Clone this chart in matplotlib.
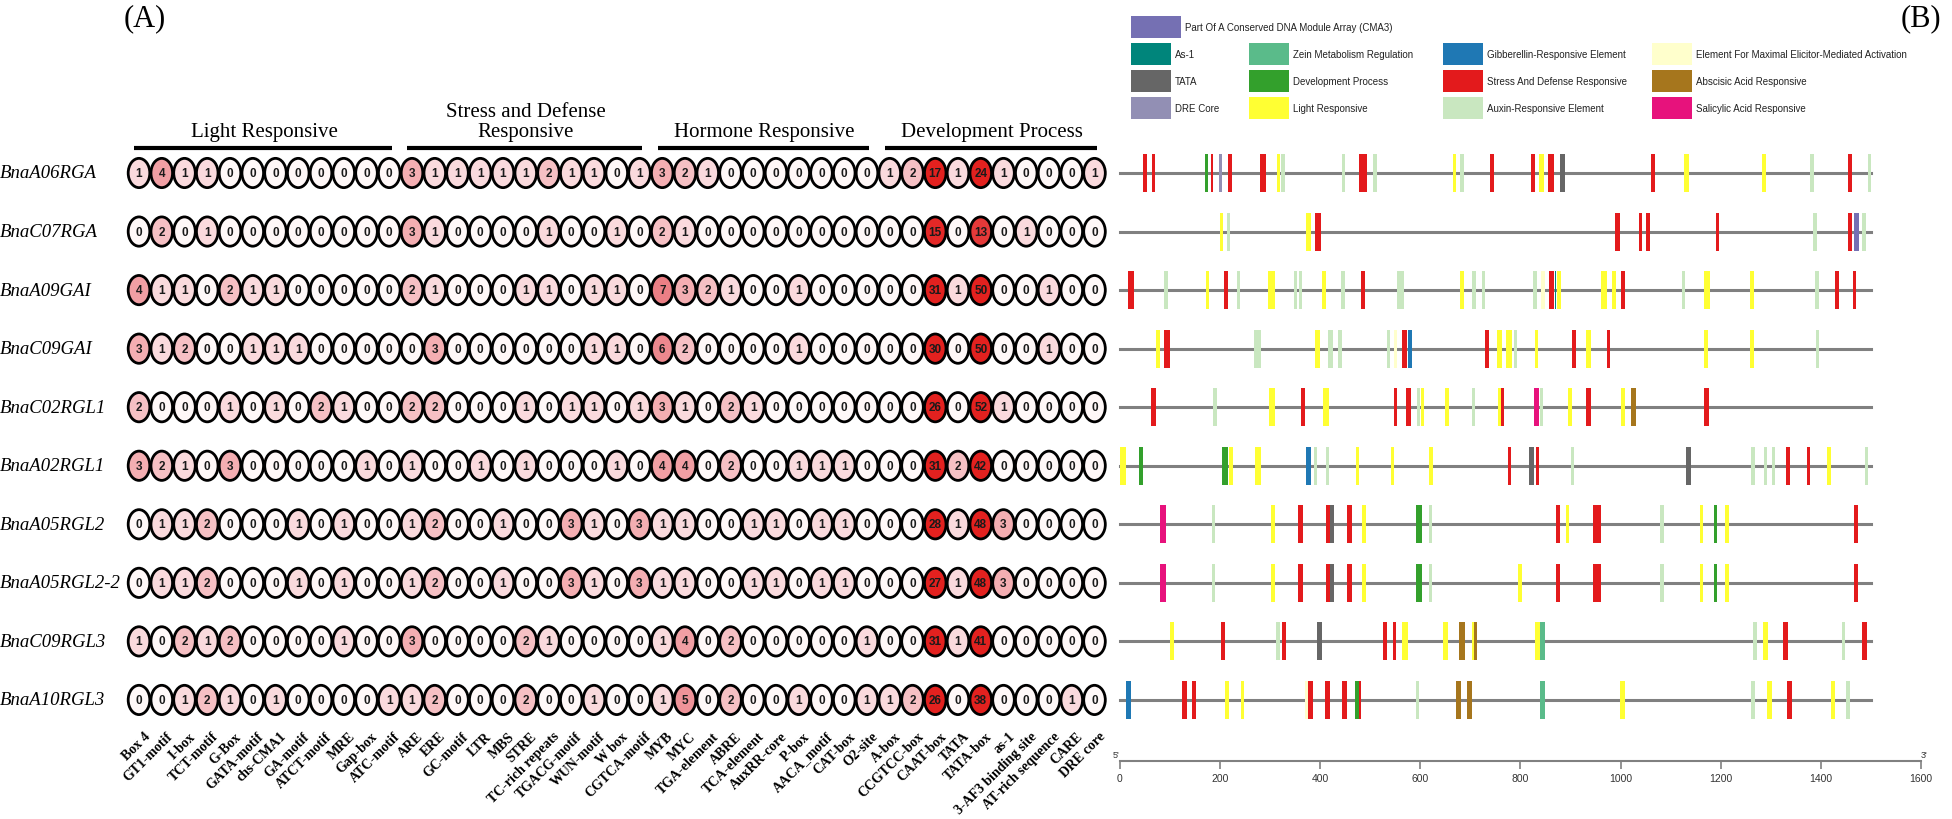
import numpy as np
import matplotlib.pyplot as plt
from matplotlib.patches import Ellipse, Rectangle
from matplotlib.colors import LinearSegmentedColormap

# ----------------------------------------------------------------------
# Data: cis-element counts (panel A)
# ----------------------------------------------------------------------
genes = ['BnaA06RGA', 'BnaC07RGA', 'BnaA09GAI', 'BnaC09GAI', 'BnaC02RGL1',
         'BnaA02RGL1', 'BnaA05RGL2', 'BnaA05RGL2-2', 'BnaC09RGL3', 'BnaA10RGL3']

light_elements = ['Box 4', 'GT1-motif', 'I-box', 'TCT-motif', 'G-Box', 'GATA-motif',
                  'chs-CMA1', 'GA-motif', 'ATCT-motif', 'MRE', 'Gap-box', 'ATC-motif']
stress_elements = ['ARE', 'ERE', 'GC-motif', 'LTR', 'MBS', 'STRE', 'TC-rich repeats',
                   'TGACG-motif', 'WUN-motif', 'W box', 'CGTCA-motif']
hormone_elements = ['MYB', 'MYC', 'TGA-element', 'ABRE', 'TCA-element', 'AuxRR-core',
                    'P-box', 'AACA_motif', 'CAT-box', 'O2-site']
develop_elements = ['A-box', 'CCGTCC-box', 'CAAT-box', 'TATA', 'TATA-box', 'as-1',
                    '3-AF3 binding site', 'AT-rich sequence', 'CARE', 'DRE core']
group_names = ['Light Responsive', 'Stress and Defense\nResponsive',
               'Hormone Responsive', 'Development Process']

light_counts = [
    [1, 4, 1, 1, 0, 0, 0, 0, 0, 0, 0, 0],
    [0, 2, 0, 1, 0, 0, 0, 0, 0, 0, 0, 0],
    [4, 1, 1, 0, 2, 1, 1, 0, 0, 0, 0, 0],
    [3, 1, 2, 0, 0, 1, 1, 1, 0, 0, 0, 0],
    [2, 0, 0, 0, 1, 0, 1, 0, 2, 1, 0, 0],
    [3, 2, 1, 0, 3, 0, 0, 0, 0, 0, 1, 0],
    [0, 1, 1, 2, 0, 0, 0, 1, 0, 1, 0, 0],
    [0, 1, 1, 2, 0, 0, 0, 1, 0, 1, 0, 0],
    [1, 0, 2, 1, 2, 0, 0, 0, 0, 1, 0, 0],
    [0, 0, 1, 2, 1, 0, 1, 0, 0, 0, 0, 1],
]
stress_counts = [
    [3, 1, 1, 1, 1, 1, 2, 1, 1, 0, 1],
    [3, 1, 0, 0, 0, 0, 1, 0, 0, 1, 0],
    [2, 1, 0, 0, 0, 1, 1, 0, 1, 1, 0],
    [0, 3, 0, 0, 0, 0, 0, 0, 1, 1, 0],
    [2, 2, 0, 0, 0, 1, 0, 1, 1, 0, 1],
    [1, 0, 0, 1, 0, 1, 0, 0, 0, 1, 0],
    [1, 2, 0, 0, 1, 0, 0, 3, 1, 0, 3],
    [1, 2, 0, 0, 1, 0, 0, 3, 1, 0, 3],
    [3, 0, 0, 0, 0, 2, 1, 0, 0, 0, 0],
    [1, 2, 0, 0, 0, 2, 0, 0, 1, 0, 0],
]
hormone_counts = [
    [3, 2, 1, 0, 0, 0, 0, 0, 0, 0],
    [2, 1, 0, 0, 0, 0, 0, 0, 0, 0],
    [7, 3, 2, 1, 0, 0, 1, 0, 0, 0],
    [6, 2, 0, 0, 0, 0, 1, 0, 0, 0],
    [3, 1, 0, 2, 1, 0, 0, 0, 0, 0],
    [4, 4, 0, 2, 0, 0, 1, 1, 1, 0],
    [1, 1, 0, 0, 1, 1, 0, 1, 1, 0],
    [1, 1, 0, 0, 1, 1, 0, 1, 1, 0],
    [1, 4, 0, 2, 0, 0, 0, 0, 0, 1],
    [1, 5, 0, 2, 0, 0, 1, 0, 0, 1],
]
develop_counts = [
    [1, 2, 17, 1, 24, 1, 0, 0, 0, 1],
    [0, 0, 15, 0, 13, 0, 1, 0, 0, 0],
    [0, 0, 31, 1, 50, 0, 0, 1, 0, 0],
    [0, 0, 30, 0, 50, 0, 0, 1, 0, 0],
    [0, 0, 26, 0, 52, 1, 0, 0, 0, 0],
    [0, 0, 31, 2, 42, 0, 0, 0, 0, 0],
    [0, 0, 28, 1, 48, 3, 0, 0, 0, 0],
    [0, 0, 27, 1, 48, 3, 0, 0, 0, 0],
    [0, 0, 31, 1, 41, 0, 0, 0, 0, 0],
    [1, 2, 26, 0, 38, 0, 0, 0, 1, 0],
]

# ----------------------------------------------------------------------
# Data: element positions on the promoters (panel B)
# (position in bp, element class, drawn width in bp)
# ----------------------------------------------------------------------
promoter_length = 1500
scale_ticks = [0, 200, 400, 600, 800, 1000, 1200, 1400, 1600]

class_names = {
    'CMA3': 'Part Of A Conserved DNA Module Array (CMA3)',
    'AS1': 'As-1',
    'TATA': 'TATA',
    'DRE': 'DRE Core',
    'ZEIN': 'Zein Metabolism Regulation',
    'DEV': 'Development Process',
    'LIGHT': 'Light Responsive',
    'GA': 'Gibberellin-Responsive Element',
    'STRESS': 'Stress And Defense Responsive',
    'AUX': 'Auxin-Responsive Element',
    'ELI': 'Element For Maximal Elicitor-Mediated Activation',
    'ABA': 'Abscisic Acid Responsive',
    'SA': 'Salicylic Acid Responsive',
}
class_colors = {
    'CMA3': '#7570b3', 'AS1': '#00857b', 'TATA': '#666666', 'DRE': '#928fb4',
    'ZEIN': '#5abb8a', 'DEV': '#33a02c', 'LIGHT': '#ffff33', 'GA': '#1f78b4',
    'STRESS': '#e31a1c', 'AUX': '#c9e7c0', 'ELI': '#ffffcc', 'ABA': '#a6761d',
    'SA': '#e7127c',
}
legend_layout = [['CMA3'],
                 ['AS1', 'ZEIN', 'GA', 'ELI'],
                 ['TATA', 'DEV', 'STRESS', 'ABA'],
                 ['DRE', 'LIGHT', 'AUX', 'SA']]

sites = [
    # BnaA06RGA
    [(50, 'STRESS', 7), (67, 'STRESS', 7), (173, 'DEV', 7), (184, 'STRESS', 5),
     (201, 'DRE', 7), (220, 'STRESS', 7), (286, 'STRESS', 11), (317, 'LIGHT', 7),
     (326, 'AUX', 7), (447, 'AUX', 7), (486, 'STRESS', 17), (510, 'AUX', 7),
     (668, 'LIGHT', 7), (683, 'AUX', 7), (743, 'STRESS', 7), (825, 'STRESS', 9),
     (842, 'LIGHT', 9), (861, 'STRESS', 11), (884, 'TATA', 9), (1065, 'STRESS', 7),
     (1132, 'LIGHT', 11), (1287, 'LIGHT', 7), (1382, 'AUX', 7), (1458, 'STRESS', 9),
     (1497, 'AUX', 7)],
    # BnaC07RGA
    [(203, 'LIGHT', 7), (217, 'AUX', 7), (377, 'LIGHT', 9), (396, 'STRESS', 11),
     (994, 'STRESS', 9), (1040, 'STRESS', 7), (1055, 'STRESS', 7), (1194, 'STRESS', 7),
     (1388, 'AUX', 7), (1458, 'STRESS', 9), (1471, 'CMA3', 11), (1486, 'AUX', 7)],
    # BnaA09GAI
    [(22, 'STRESS', 11), (92, 'AUX', 7), (175, 'LIGHT', 7), (212, 'STRESS', 9),
     (237, 'AUX', 7), (303, 'LIGHT', 13), (351, 'AUX', 7), (361, 'AUX', 7),
     (408, 'LIGHT', 7), (446, 'AUX', 7), (486, 'STRESS', 7), (561, 'AUX', 14),
     (683, 'LIGHT', 9), (707, 'AUX', 9), (726, 'AUX', 7), (829, 'AUX', 7),
     (845, 'ELI', 7), (862, 'STRESS', 9), (870, 'AS1', 3), (877, 'LIGHT', 7),
     (967, 'LIGHT', 13), (987, 'LIGHT', 7), (1005, 'STRESS', 7), (1126, 'AUX', 7),
     (1173, 'LIGHT', 12), (1263, 'LIGHT', 9), (1392, 'AUX', 7), (1433, 'STRESS', 8),
     (1467, 'STRESS', 7)],
    # BnaC09GAI
    [(76, 'LIGHT', 7), (94, 'STRESS', 12), (275, 'AUX', 14), (395, 'LIGHT', 9),
     (421, 'AUX', 9), (440, 'AUX', 7), (537, 'AUX', 7), (551, 'ELI', 7),
     (569, 'STRESS', 9), (580, 'GA', 9), (733, 'STRESS', 9), (758, 'LIGHT', 9),
     (778, 'LIGHT', 12), (790, 'AUX', 7), (832, 'LIGHT', 7), (907, 'STRESS', 9),
     (936, 'LIGHT', 11), (976, 'STRESS', 7), (1171, 'LIGHT', 9), (1263, 'LIGHT', 9),
     (1393, 'AUX', 7)],
    # BnaC02RGL1
    [(67, 'STRESS', 9), (190, 'AUX', 7), (304, 'LIGHT', 11), (366, 'STRESS', 7),
     (412, 'LIGHT', 11), (551, 'STRESS', 7), (577, 'STRESS', 9), (597, 'AUX', 7),
     (605, 'LIGHT', 7), (653, 'LIGHT', 7), (706, 'AUX', 7), (758, 'LIGHT', 7),
     (765, 'STRESS', 6), (832, 'SA', 9), (842, 'AUX', 5), (899, 'LIGHT', 9),
     (936, 'STRESS', 9), (1005, 'LIGHT', 7), (1026, 'ABA', 9), (1172, 'STRESS', 9)],
    # BnaA02RGL1
    [(6, 'LIGHT', 11), (42, 'DEV', 7), (210, 'DEV', 11), (222, 'LIGHT', 7),
     (277, 'LIGHT', 12), (377, 'GA', 9), (391, 'AUX', 7), (415, 'AUX', 7),
     (475, 'LIGHT', 7), (545, 'LIGHT', 7), (622, 'LIGHT', 9), (778, 'STRESS', 7),
     (822, 'TATA', 11), (834, 'STRESS', 7), (904, 'AUX', 7), (1135, 'TATA', 10),
     (1265, 'AUX', 7), (1290, 'AUX', 7), (1306, 'AUX', 7), (1335, 'STRESS', 7),
     (1375, 'STRESS', 7), (1416, 'LIGHT', 7), (1491, 'AUX', 7)],
    # BnaA05RGL2
    [(86, 'SA', 13), (187, 'AUX', 7), (306, 'LIGHT', 7), (361, 'STRESS', 9),
     (416, 'STRESS', 9), (424, 'TATA', 9), (459, 'STRESS', 9), (488, 'LIGHT', 9),
     (598, 'DEV', 13), (621, 'AUX', 7), (875, 'STRESS', 7), (894, 'LIGHT', 7),
     (953, 'STRESS', 17), (1083, 'AUX', 7), (1162, 'LIGHT', 7), (1190, 'DEV', 7),
     (1213, 'LIGHT', 9), (1471, 'STRESS', 8)],
    # BnaA05RGL2-2
    [(86, 'SA', 13), (187, 'AUX', 7), (306, 'LIGHT', 7), (361, 'STRESS', 9),
     (416, 'STRESS', 9), (424, 'TATA', 9), (459, 'STRESS', 9), (488, 'LIGHT', 9),
     (598, 'DEV', 13), (621, 'AUX', 7), (799, 'LIGHT', 7), (875, 'STRESS', 7),
     (953, 'STRESS', 17), (1083, 'AUX', 7), (1162, 'LIGHT', 7), (1190, 'DEV', 7),
     (1213, 'LIGHT', 9), (1471, 'STRESS', 8)],
    # BnaC09RGL3
    [(104, 'LIGHT', 9), (206, 'STRESS', 9), (316, 'AUX', 7), (328, 'STRESS', 7),
     (399, 'TATA', 9), (530, 'STRESS', 7), (549, 'STRESS', 7), (569, 'LIGHT', 12),
     (650, 'LIGHT', 9), (683, 'ABA', 12), (705, 'LIGHT', 5), (710, 'ABA', 5),
     (834, 'LIGHT', 9), (844, 'ZEIN', 11), (1269, 'AUX', 9), (1290, 'LIGHT', 9),
     (1330, 'STRESS', 9), (1445, 'AUX', 7), (1487, 'STRESS', 9)],
    # BnaA10RGL3
    [(17, 'GA', 9), (129, 'STRESS', 9), (148, 'STRESS', 9), (214, 'LIGHT', 9),
     (245, 'LIGHT', 7), (374, 'ELI', 7), (381, 'STRESS', 9), (415, 'STRESS', 9),
     (449, 'STRESS', 9), (475, 'DEV', 9), (480, 'STRESS', 3), (595, 'AUX', 7),
     (676, 'ABA', 9), (698, 'ABA', 9), (844, 'ZEIN', 11), (1004, 'LIGHT', 9),
     (1265, 'AUX', 9), (1298, 'LIGHT', 9), (1338, 'STRESS', 9), (1424, 'LIGHT', 9),
     (1454, 'AUX', 9)],
]

# ----------------------------------------------------------------------
# Layout (pixel geometry of the original figure)
# ----------------------------------------------------------------------
W, H = 1952, 820
COL0, COLW = 139, 22.75        # panel A: first column centre, column pitch (px)
ROW0, ROWH = 174, 58.55        # first row centre, row pitch (px)
BP0, BPW = 1119.8, 0.5007      # panel B: x of 0 bp, px per bp
AXIS_Y = 762                   # y of the bp scale line

SERIF = 'Liberation Serif'
SANS = 'Liberation Sans'

fig = plt.figure(figsize=(W / 100, H / 100), dpi=100)


def px_axes(x0, y0, x1, y1):
    ax = fig.add_axes([x0 / W, 1 - y1 / H, (x1 - x0) / W, (y1 - y0) / H])
    ax.patch.set_visible(False)
    return ax


count_cmap = LinearSegmentedColormap.from_list(
    'cre', [(0.0, '#fff8f8'), (0.25, '#fad9dc'), (0.55, '#f2a3a8'),
            (0.75, '#ea7c82'), (1.0, '#e3211f')])


def count_color(v):
    return count_cmap(min(np.log1p(v) / np.log1p(16), 1.0))


# ---------------------------- panel A ---------------------------------
counts = np.hstack([light_counts, stress_counts, hormone_counts, develop_counts])
elements = light_elements + stress_elements + hormone_elements + develop_elements
group_sizes = [len(light_elements), len(stress_elements),
               len(hormone_elements), len(develop_elements)]

ax_a = px_axes(0, 0, 1110, H)
ax_a.set_xlim((0 - COL0) / COLW, (1110 - COL0) / COLW)
ax_a.set_ylim((H - ROW0) / ROWH, (0 - ROW0) / ROWH)
ax_a.axis('off')

for r, gene in enumerate(genes):
    ax_a.text(0.0, r, gene, transform=ax_a.get_yaxis_transform(), ha='left',
              va='center', fontsize=13.5, style='italic', family=SERIF)
    for c in range(counts.shape[1]):
        v = counts[r, c]
        ax_a.add_patch(Ellipse((c, r), 0.95, 0.5, facecolor=count_color(v),
                               edgecolor='black', lw=2))
        ax_a.text(c, r, str(v), ha='center', va='center', fontsize=8.5,
                  weight='bold', family=SANS, color='#1a1a1a')

start = 0
for name, n in zip(group_names, group_sizes):
    end = start + n - 1
    ax_a.plot([start - 0.2, end + 0.1], [-0.43, -0.43], color='black', lw=3,
              solid_capstyle='butt')
    ax_a.text((start + end) / 2, -0.55, name, ha='center', va='bottom',
              fontsize=15, family=SERIF, linespacing=1.05)
    start = end + 1

for c, label in enumerate(elements):
    ax_a.text(c + 0.2, len(genes) - 0.5, label, rotation=45, rotation_mode='anchor',
              ha='right', va='top', fontsize=10, weight='bold', family=SERIF)

# ---------------------------- panel B ---------------------------------
ax_b = px_axes(1100, 0, W, AXIS_Y)
ax_b.set_xlim((1100 - BP0) / BPW, (W - BP0) / BPW)
ax_b.set_ylim((AXIS_Y - ROW0) / ROWH, (0 - ROW0) / ROWH)
for side in ['left', 'right', 'top']:
    ax_b.spines[side].set_visible(False)
ax_b.spines['bottom'].set_bounds(scale_ticks[0], scale_ticks[-1])
ax_b.spines['bottom'].set_color('#808080')
ax_b.spines['bottom'].set_linewidth(1.5)
ax_b.set_yticks([])
ax_b.set_xticks(scale_ticks)
ax_b.tick_params(axis='x', direction='out', length=6, width=1.2, color='#808080',
                 labelsize=7.5, labelcolor='#333333', pad=3)
for lab in ax_b.get_xticklabels():
    lab.set_family(SANS)

mark_h = 0.65
for r, gene_sites in enumerate(sites):
    ax_b.plot([0, promoter_length], [r, r], color='#808080', lw=2.2, zorder=1)
    pos = [s[0] for s in gene_sites]
    cols = [class_colors[s[1]] for s in gene_sites]
    widths = [s[2] for s in gene_sites]
    ax_b.bar(pos, mark_h, width=widths, bottom=r - mark_h / 2, color=cols,
             linewidth=0, zorder=2)

bottom_y = (AXIS_Y - ROW0) / ROWH
ax_b.text(scale_ticks[0], bottom_y - 0.04, "5'", ha='right', va='bottom',
          fontsize=6.5, family=SANS, color='#333333')
ax_b.text(scale_ticks[-1], bottom_y - 0.04, "3'", ha='left', va='bottom',
          fontsize=6.5, family=SANS, color='#333333')

# legend in pixel coordinates
ax_leg = px_axes(1100, 0, W, 130)
ax_leg.set_xlim(1100, W)
ax_leg.set_ylim(130, 0)
ax_leg.axis('off')
leg_cols = [1131, 1249, 1443, 1652]
leg_rows = [28, 55, 82, 109]
for row_y, entries in zip(leg_rows, legend_layout):
    for x0, key in zip(leg_cols, entries):
        pw = 50 if key == 'CMA3' else 40
        ax_leg.add_patch(Rectangle((x0, row_y - 11), pw, 22,
                                   facecolor=class_colors[key], edgecolor='none'))
        ax_leg.text(x0 + pw + 4, row_y, class_names[key], ha='left', va='center',
                    fontsize=7, family=SANS, color='#222222')

fig.text(145 / W, 1 - 19 / H, '(A)', ha='center', va='center', fontsize=22,
         family=SERIF)
fig.text(1921 / W, 1 - 19 / H, '(B)', ha='center', va='center', fontsize=22,
         family=SERIF)

fig.savefig('out.png', dpi=100)
